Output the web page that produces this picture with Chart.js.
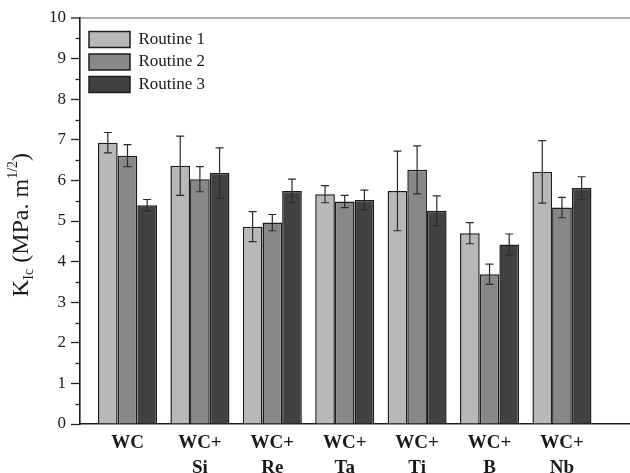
<!DOCTYPE html>
<html>
<head>
<meta charset="utf-8">
<script src="https://cdn.jsdelivr.net/npm/chart.js@4/dist/chart.umd.min.js"></script>
<style>
  html, body { margin: 0; padding: 0; background: #fff; overflow: hidden; }
  #wrap { width: 630px; height: 473px; }
</style>
</head>
<body>
<div id="wrap"><canvas id="c" width="630" height="473"></canvas></div>
<script>
const categories = [["WC"], ["WC+", "Si"], ["WC+", "Re"], ["WC+", "Ta"], ["WC+", "Ti"], ["WC+", "B"], ["WC+", "Nb"]];
const seriesNames = ["Routine 1", "Routine 2", "Routine 3"];
const routine1 = [6.93, 6.36, 4.86, 5.66, 5.74, 4.70, 6.21];
const routine2 = [6.61, 6.03, 4.96, 5.48, 6.26, 3.69, 5.33];
const routine3 = [5.39, 6.18, 5.74, 5.52, 5.25, 4.42, 5.81];
const err1 = [0.25, 0.73, 0.37, 0.21, 0.98, 0.26, 0.77];
const err2 = [0.27, 0.31, 0.20, 0.15, 0.59, 0.25, 0.25];
const err3 = [0.14, 0.62, 0.29, 0.24, 0.37, 0.26, 0.28];
const yTicks = [0, 1, 2, 3, 4, 5, 6, 7, 8, 9, 10];

const SERIF = '"Liberation Serif", "Times New Roman", "DejaVu Serif", serif';
const fills = ['#b8b8b8', '#888888', '#414141'];
const values = [routine1, routine2, routine3];
const errors = [err1, err2, err3];

const datasets = seriesNames.map((name, k) => ({
  label: name,
  data: values[k].map((v, i) => ({ x: i, y: v })),
  errors: errors[k],
  backgroundColor: fills[k],
  borderColor: '#1c1c1c',
  borderWidth: 1.5,
  categoryPercentage: 0.815,
  barPercentage: 1.0
}));

const errorBars = {
  id: 'errorBars',
  afterDatasetsDraw(chart) {
    const ctx = chart.ctx;
    const ys = chart.scales.y;
    ctx.save();
    ctx.strokeStyle = '#2a2a2a';
    ctx.lineWidth = 1.2;
    chart.data.datasets.forEach((ds, di) => {
      const meta = chart.getDatasetMeta(di);
      meta.data.forEach((bar, i) => {
        const v = ds.data[i].y, e = ds.errors[i];
        const top = ys.getPixelForValue(v + e);
        const bot = ys.getPixelForValue(v - e);
        const cap = 4;
        ctx.beginPath();
        ctx.moveTo(bar.x, top); ctx.lineTo(bar.x, bot);
        ctx.moveTo(bar.x - cap, top); ctx.lineTo(bar.x + cap, top);
        ctx.moveTo(bar.x - cap, bot); ctx.lineTo(bar.x + cap, bot);
        ctx.stroke();
      });
    });
    ctx.restore();
  }
};

const minorTicks = {
  id: 'minorTicks',
  afterDraw(chart) {
    const ctx = chart.ctx;
    const ys = chart.scales.y;
    const left = chart.chartArea.left;
    ctx.save();
    ctx.strokeStyle = '#222';
    ctx.lineWidth = 1.3;
    for (let i = 0; i < yTicks.length - 1; i++) {
      const m = (yTicks[i] + yTicks[i + 1]) / 2;
      const p = Math.round(ys.getPixelForValue(m)) + 0.5;
      ctx.beginPath();
      ctx.moveTo(left - 4.5, p); ctx.lineTo(left, p);
      ctx.stroke();
    }
    ctx.restore();
  }
};

const yTitle = {
  id: 'yTitle',
  afterDraw(chart) {
    const ctx = chart.ctx;
    const big = 'normal 24px ' + SERIF;
    const small = 'normal 14px ' + SERIF;
    const segs = [
      { t: 'K', f: big, dy: 0 },
      { t: 'Ic', f: small, dy: 5 },
      { t: ' (MPa. m', f: big, dy: 0 },
      { t: '1/2', f: small, dy: -11 },
      { t: ')', f: big, dy: 0 }
    ];
    ctx.save();
    let total = 0;
    segs.forEach(s => { ctx.font = s.f; s.w = ctx.measureText(s.t).width; total += s.w; });
    ctx.translate(28, 225);
    ctx.rotate(-Math.PI / 2);
    ctx.fillStyle = '#1a1a1a';
    ctx.textBaseline = 'alphabetic';
    let x = -total / 2;
    segs.forEach(s => { ctx.font = s.f; ctx.fillText(s.t, x, s.dy); x += s.w; });
    ctx.restore();
  }
};

const legendPlace = {
  id: 'legendPlace',
  afterLayout(chart) {
    const lg = chart.legend, ca = chart.chartArea;
    if (!lg) return;
    lg.left = ca.left + 3.5;
    lg.top = ca.top + 7.5;
    lg.right = ca.right;
    lg.bottom = ca.bottom;
  }
};

new Chart(document.getElementById('c'), {
  type: 'bar',
  data: { datasets },
  plugins: [errorBars, minorTicks, yTitle, legendPlace],
  options: {
    responsive: false,
    animation: false,
    layout: { padding: { top: 18, left: 0, right: 0, bottom: 0 } },
    plugins: {
      tooltip: { enabled: false },
      legend: {
        position: 'chartArea',
        align: 'start',
        labels: {
          boxWidth: 41,
          boxHeight: 16,
          padding: 5.5,
          color: '#1a1a1a',
          font: { family: SERIF, size: 17 }
        }
      }
    },
    scales: {
      x: {
        type: 'linear',
        min: -0.656,
        max: 6.94,
        offset: false,
        grid: { display: false, offset: false },
        border: { display: true, color: '#1c1c1c', width: 1.6 },
        afterBuildTicks(scale) { scale.ticks = categories.map((_, i) => ({ value: i })); },
        afterFit(scale) { scale.height = 49; scale.paddingLeft = 0; scale.paddingRight = 0; },
        ticks: {
          autoSkip: false,
          maxRotation: 0,
          padding: -1,
          color: '#1a1a1a',
          font: { family: SERIF, size: 19, weight: 'bold', lineHeight: 1.3 },
          callback: (v) => categories[v]
        }
      },
      y: {
        min: 0,
        max: 10,
        afterBuildTicks(scale) { scale.ticks = yTicks.map(v => ({ value: v })); },
        afterFit(scale) { scale.width = 80; scale.paddingTop = 0; scale.paddingBottom = 0; },
        border: { display: true, color: '#1c1c1c', width: 1.6 },
        grid: {
          drawOnChartArea: true,
          color: (c) => (c.tick && c.tick.value === 10) ? '#b0b0b0' : 'rgba(0,0,0,0)',
          lineWidth: (c) => (c.tick && c.tick.value === 10) ? 2 : 1,
          tickColor: '#222',
          tickLength: 9,
          tickWidth: 1.3
        },
        ticks: {
          padding: 5,
          color: '#1a1a1a',
          font: { family: SERIF, size: 17 }
        }
      }
    }
  }
});
</script>
</body>
</html>
